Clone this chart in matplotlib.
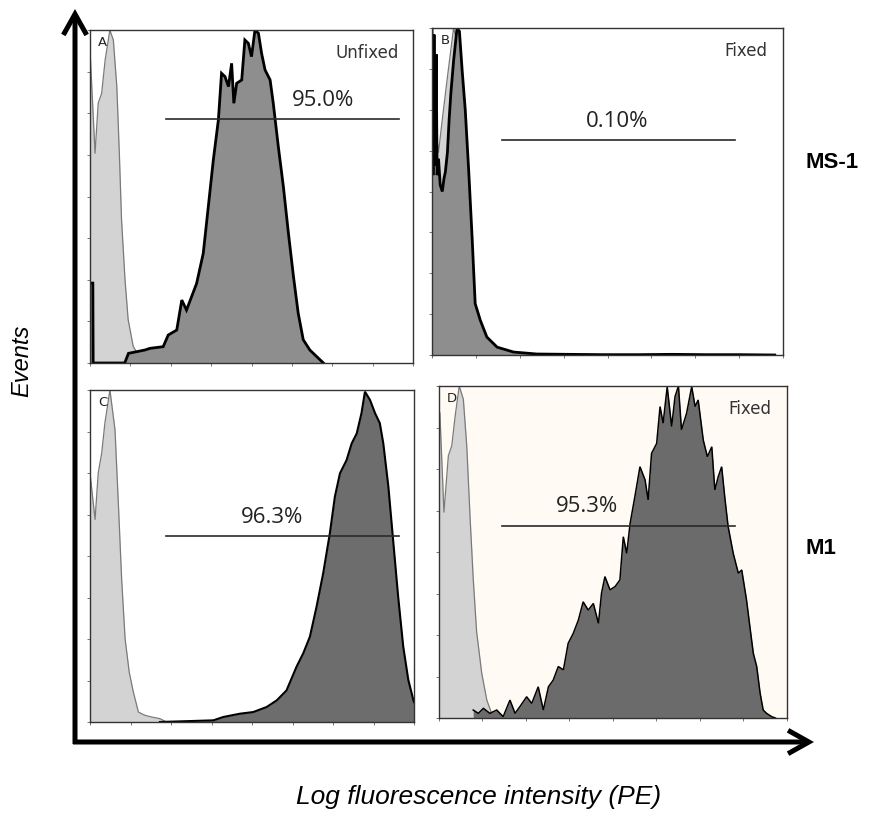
import matplotlib
matplotlib.use("Agg")
import matplotlib.pyplot as plt

# ---------------- data (channel 0-1024, % of max events) ----------------
a_ctrl_ch = [0, 16, 26, 37, 48, 63, 74, 85, 93, 100, 111, 121, 137, 153, 180, 206, 230]
a_ctrl_h = [94, 63, 78, 81, 91, 100, 97, 83, 63, 43, 25, 13, 5, 2.4, 1.7, 1.4, 0]
a_smp_ch = [0, 9, 10, 110, 122, 174, 190, 232, 248, 275, 291, 306, 338, 359, 375, 391, 407,
            417, 428, 439, 449, 456, 465, 481, 491, 502, 512, 523, 534, 544, 555, 571, 581,
            597, 613, 629, 645, 660, 676, 697, 719, 740]
a_smp_h = [24, 24, 0, 0, 2.9, 3.9, 4.4, 4.9, 8.4, 9.9, 18.9, 15.9, 23.9, 32.9, 46.9, 61, 73,
           87, 86, 83, 90, 78, 84, 85, 97, 96, 92, 100, 99, 93, 88, 85, 78,
           65, 53, 39, 26, 15, 7, 3.9, 1.9, 0]

b_ctrl_ch = [0, 10, 19, 30, 45, 63, 75, 90, 100, 110, 120, 135, 150, 175, 200]
b_ctrl_h = [95, 70, 62, 72, 85, 100, 95, 80, 60, 40, 22, 8, 3, 1, 0]
b_smp_ch = [0, 3, 6, 9, 12, 15, 19, 24, 30, 35, 39, 45, 50, 55, 63, 73, 80, 88, 97, 107,
            117, 126, 141, 160, 190, 238, 306, 400, 500, 600, 700, 800, 900, 1000]
b_smp_h = [100, 55, 98, 58, 92, 55, 60, 52, 50, 54, 56, 62, 72, 80, 90, 100, 99, 87, 75, 56.5,
           36, 15.7, 10.6, 5.5, 2.4, 0.9, 0.3, 0.2, 0.1, 0.1, 0.2, 0.1, 0.1, 0]

c_ctrl_ch = [0, 16, 26, 37, 47, 63, 79, 90, 100, 111, 124, 137, 153, 163, 174, 195, 221, 242]
c_ctrl_h = [75, 61, 75, 81, 90, 100, 88, 65, 43, 25, 15, 9, 3, 2.5, 2, 1.5, 1, 0]
c_smp_ch = [221, 390, 421, 474, 516, 558, 590, 621, 653, 674, 695, 716, 737, 758, 774, 790,
            811, 827, 843, 858, 869, 885, 901, 916, 927, 943, 958, 974, 990, 1006, 1022, 1024]
c_smp_h = [0, 0.5, 1.5, 2.5, 3, 4.5, 6.5, 9.5, 16.7, 20.7, 25.7, 34.7, 44.8, 56.8, 67.9, 74.9,
           78.9, 83.9, 86.9, 93, 99.5, 97, 93, 90, 83.9, 70.9, 54.8, 37.7, 22.7, 12.7, 6.6, 6]

d_ctrl_ch = [0, 4, 16, 29, 39, 49, 61, 73, 83, 93, 102, 112, 127, 142, 156, 181, 200]
d_ctrl_h = [92, 92, 62, 79, 82, 91, 100, 96, 82, 60, 42, 26, 13.5, 5.4, 1.4, 0.9, 0]
d_smp_ch = [102, 117, 132, 151, 171, 190, 210, 225, 239, 259, 274, 293, 308, 323, 337, 352,
            367, 381, 396, 411, 425, 440, 455, 470, 479, 489, 504, 519, 533, 543, 553, 563,
            577, 592, 607, 616, 626, 641, 651, 660, 672, 685, 695, 705, 714, 729, 744, 754,
            763, 778, 790, 803, 812, 822, 832, 842, 851, 866, 881, 891, 905, 915, 925, 935,
            945, 954, 964, 979, 990]
d_smp_h = [2.4, 1.4, 2.9, 1.4, 2.4, 0.4, 5.4, 1.4, 3.4, 6.4, 4.4, 9.4, 2.4, 9.4, 11.4, 15.5,
           14.5, 22.5, 25.5, 29.5, 35, 32.5, 34.5, 28.5, 37.6, 42.6, 38.6, 39.6, 41.6, 54.6, 49.6, 58.6,
           66.7, 75.7, 71.7, 65.7, 79.7, 82.7, 93.8, 88.8, 99.8, 87.8, 96.8, 100, 86.8, 91.8, 99.8, 93.8,
           95.8, 83.7, 78.7, 81.7, 68.7, 72.7, 75.7, 65.7, 57.7, 49.6, 43.6, 44.6, 35.6, 27.5, 19.5, 15.5,
           7.5, 2.4, 1.4, 0.4, 0]

panel_letters = ["A", "B", "C", "D"]
panel_titles = ["Unfixed", "Fixed", "", "Fixed"]
gate_lo = [241, 204, 240, 187]
gate_hi = [980, 885, 976, 871]
gate_y = [73.3, 65.7, 56.0, 57.9]
gate_labels = ["95.0%", "0.10%", "96.3%", "95.3%"]
gate_label_x = [739, 540, 575, 436]
row_labels = ["MS-1", "M1"]

# ---------------- layout ----------------
W, H = 869, 818
fig = plt.figure(figsize=(W / 100, H / 100), dpi=100)
fig.patch.set_facecolor("white")

def px_axes(x0, y0, x1, y1):
    return fig.add_axes([x0 / W, 1 - y1 / H, (x1 - x0) / W, (y1 - y0) / H])

boxes = [(90, 30, 413, 363), (432, 28, 783, 355), (90, 390, 414, 722), (438.5, 386, 787, 718)]
ctrl = [(a_ctrl_ch, a_ctrl_h), (b_ctrl_ch, b_ctrl_h), (c_ctrl_ch, c_ctrl_h), (d_ctrl_ch, d_ctrl_h)]
smp = [(a_smp_ch, a_smp_h), (b_smp_ch, b_smp_h), (c_smp_ch, c_smp_h), (d_smp_ch, d_smp_h)]
smp_fill = ["#8e8e8e", "#8e8e8e", "#6d6d6d", "#6b6b6b"]
smp_lw = [2.0, 2.0, 1.5, 1.1]
bgs = ["white", "white", "white", "#fffbf4"]

for i, box in enumerate(boxes):
    ax = px_axes(*box)
    ax.set_facecolor(bgs[i])
    ax.set_xlim(0, 1024)
    ax.set_ylim(0, 100)
    cx, cy = ctrl[i]
    ax.fill_between(cx, cy, 0, color="#d3d3d3", lw=0, zorder=1)
    ax.plot(cx, cy, color="#7a7a7a", lw=0.9, zorder=2)
    sx, sy = smp[i]
    ax.fill_between(sx, sy, 0, color=smp_fill[i], lw=0, zorder=3)
    ax.plot(sx, sy, color="black", lw=smp_lw[i], zorder=4, solid_joinstyle="miter")
    ax.plot([gate_lo[i], gate_hi[i]], [gate_y[i], gate_y[i]], color="#2a2a2a", lw=1.2, zorder=5)
    ax.text(gate_label_x[i], gate_y[i] + 2.5, gate_labels[i], ha="center", va="bottom",
            fontsize=16, family=["Open Sans", "DejaVu Sans"], color="#222222", zorder=6)
    if panel_titles[i]:
        ax.text(0.955, 0.93, panel_titles[i], transform=ax.transAxes, ha="right", va="center",
                fontsize=12, family="DejaVu Sans", color="#333333", zorder=6)
    ax.text(0.025, 0.962, panel_letters[i], transform=ax.transAxes, ha="left", va="center",
            fontsize=9.5, family="DejaVu Sans", color="#222222", zorder=6)
    ax.set_xticks([k * 128 for k in range(9)])
    ax.set_yticks([k * 12.5 for k in range(9)])
    ax.set_xticklabels([])
    ax.set_yticklabels([])
    ax.tick_params(direction="out", length=2.5, width=0.7, color="#777777")
    for s in ax.spines.values():
        s.set_color("#333333")
        s.set_linewidth(1.0)
        s.set_zorder(7)

# overlay for arrows
ov = fig.add_axes([0, 0, 1, 1], zorder=-1)
ov.set_xlim(0, W)
ov.set_ylim(H, 0)
ov.axis("off")
ov.patch.set_alpha(0)
arrow_kw = dict(arrowstyle="->,head_length=0.75,head_width=0.42", lw=3.6, color="black",
                mutation_scale=20, shrinkA=0, shrinkB=0, capstyle="butt", joinstyle="miter")
ov.annotate("", xy=(75, 9), xytext=(75, 744), arrowprops=arrow_kw)
ov.annotate("", xy=(814, 742), xytext=(73, 742), arrowprops=arrow_kw)

fig.text(22 / W, 1 - 361 / H, "Events", rotation=90, ha="center", va="center",
         fontsize=17, style="italic", family="Liberation Sans")
fig.text(479 / W, 1 - 797 / H, "Log fluorescence intensity (PE)", ha="center", va="center",
         fontsize=19, style="italic", family="Liberation Sans")
fig.text(832 / W, 1 - 163 / H, row_labels[0], ha="center", va="center",
         fontsize=16, weight="bold", family="Liberation Sans")
fig.text(821 / W, 1 - 548 / H, row_labels[1], ha="center", va="center",
         fontsize=16, weight="bold", family="Liberation Sans")

fig.savefig("out.png", dpi=100, facecolor="white")
